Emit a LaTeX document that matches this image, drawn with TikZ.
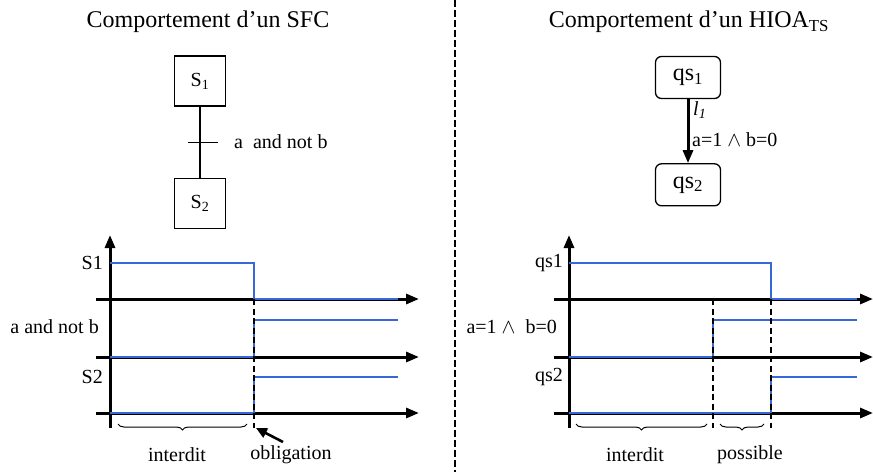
\documentclass[tikz,border=0pt]{standalone}
\usepackage{fontspec}
\setmainfont{Liberation Serif}
\usepackage{tikz}
\usetikzlibrary{positioning, arrows.meta, decorations.pathreplacing}
\definecolor{sigblue}{RGB}{54,104,218}
\tikzset{
  titletext/.style={inner sep=0pt, font=\fontsize{24}{28}\selectfont},
  labtext/.style={inner sep=0pt, font=\fontsize{20}{24}\selectfont},
  stepbox/.style={rectangle, draw=black, line width=1.3pt,
                  minimum width=51pt, minimum height=50pt, inner sep=0pt,
                  font=\fontsize{20}{24}\selectfont},
  statebox/.style={rectangle, draw=black, line width=1.3pt, rounded corners=6pt,
                   minimum width=65pt, minimum height=42pt, inner sep=0pt,
                   font=\fontsize{24}{28}\selectfont},
  axisarr/.style={-{Triangle[length=13pt, width=10pt]}, line width=3pt},
  sigline/.style={draw=sigblue, line width=1.3pt},
  cutline/.style={dash pattern=on 6pt off 3.5pt, line width=2.8pt},
  sepline/.style={dash pattern=on 7pt off 3pt, line width=2.3pt},
  bracedown/.style={decorate, decoration={brace, mirror, amplitude=6pt},
                    line width=1pt},
  pointarr/.style={-{Triangle[length=11pt, width=10pt]}, line width=2.6pt},
}
\newcommand{\dn}[1]{\textsubscript{#1}}

\begin{document}
\begin{tikzpicture}[x=1pt, y=1pt]
  \useasboundingbox (0,0) rectangle (873,-472);

  %% separator
  \coordinate (septop) at (455,0);
  \coordinate (sepbot) at (455,-472);
  \draw[sepline] (septop) -- (sepbot);

  %% ---------------- SFC side ----------------
  \node[titletext] (sfctitle) at (208,-22) {Comportement d'un SFC};

  \node[stepbox] (s1) at (200,-81) {S\dn{1}};
  \node[stepbox, below=71pt of s1] (s2) {S\dn{2}};
  \draw[line width=1.3pt] (s1) -- (s2) coordinate[midway] (tr);
  \draw[line width=1.3pt] ([xshift=-12pt]tr) -- ([xshift=18pt]tr);
  \node[labtext, anchor=west] (trlab) at ([xshift=34pt]tr) {a~~and not b};

  %% axes
  \coordinate (lorig) at (110,-428);
  \coordinate (ltop)  at (110,-235);
  \draw[axisarr] (lorig) -- (ltop);
  \foreach \yy/\nm in {299/la, 357/lb, 413/lc} {
    \coordinate (\nm0) at (96,-\yy);
    \coordinate (\nm1) at (419,-\yy);
    \draw[axisarr] (\nm0) -- (\nm1);
  }

  %% signals
  \draw[sigline] (110,-263) -- (254,-263) -- (254,-299) -- (398,-299);
  \draw[sigline] (110,-357) -- (254,-357) -- (254,-320) -- (398,-320);
  \draw[sigline] (110,-413) -- (254,-413) -- (254,-377) -- (398,-377);

  \node[labtext, anchor=east] (ls1) at (103,-263) {S1};
  \node[labtext, anchor=east] (lab) at (99,-327) {a and not b};
  \node[labtext, anchor=east] (ls2) at (103,-377) {S2};

  %% obligation
  \coordinate (lcuttop) at (254,-299);
  \coordinate (lcutbot) at (254,-428);
  \draw[cutline] (lcuttop) -- (lcutbot);

  \draw[bracedown] (118,-424) -- (247,-424);
  \node[labtext] (linter) at (177,-455) {interdit};
  \node[labtext] (oblig) at (291,-455) {obligation};
  \coordinate (oblfoot) at (283,-442);
  \coordinate (obltip) at (256,-428);
  \draw[pointarr] (oblfoot) -- (obltip);

  %% ---------------- HIOA side ----------------
  \node[titletext] (hioatitle) at (689,-22) {Comportement d'un HIOA\dn{TS}};

  \node[statebox] (qs1) at (688,-77.5) {qs\dn{1}};
  \node[statebox, below=64pt of qs1] (qs2) {qs\dn{2}};
  \draw[-{Triangle[length=13pt, width=10pt]}, line width=3pt] (qs1) -- (qs2);
  \node[labtext, anchor=west] (lone) at (693,-110) {\textit{l\dn{1}}};
  \node[labtext, anchor=west] (guard) at (692,-140) {a=1 $\wedge$ b=0};

  %% axes
  \coordinate (rorig) at (569,-428);
  \coordinate (rtop)  at (569,-235);
  \draw[axisarr] (rorig) -- (rtop);
  \foreach \yy/\nm in {299/ra, 357/rb, 413/rc} {
    \coordinate (\nm0) at (554,-\yy);
    \coordinate (\nm1) at (873,-\yy);
    \draw[axisarr] (\nm0) -- (\nm1);
  }

  %% signals
  \draw[sigline] (569,-263) -- (771,-263) -- (771,-299) -- (857,-299);
  \draw[sigline] (569,-357) -- (713,-357) -- (713,-320) -- (857,-320);
  \draw[sigline] (569,-413) -- (771,-413) -- (771,-377) -- (857,-377);

  \node[labtext, anchor=east] (rq1) at (563,-263) {qs1};
  \node[labtext, anchor=east] (rab) at (557,-327) {a=1 $\wedge$~ b=0};
  \node[labtext, anchor=east] (rq2) at (563,-377) {qs2};

  \draw[cutline] (713,-299) -- (713,-428);
  \draw[cutline] (771,-299) -- (771,-428);

  \draw[bracedown] (576,-424) -- (707,-424);
  \draw[bracedown] (720,-424) -- (764,-424);
  \node[labtext] (rinter) at (635,-455) {interdit};
  \node[labtext] (rposs) at (750,-455) {possible};

\end{tikzpicture}
\end{document}
